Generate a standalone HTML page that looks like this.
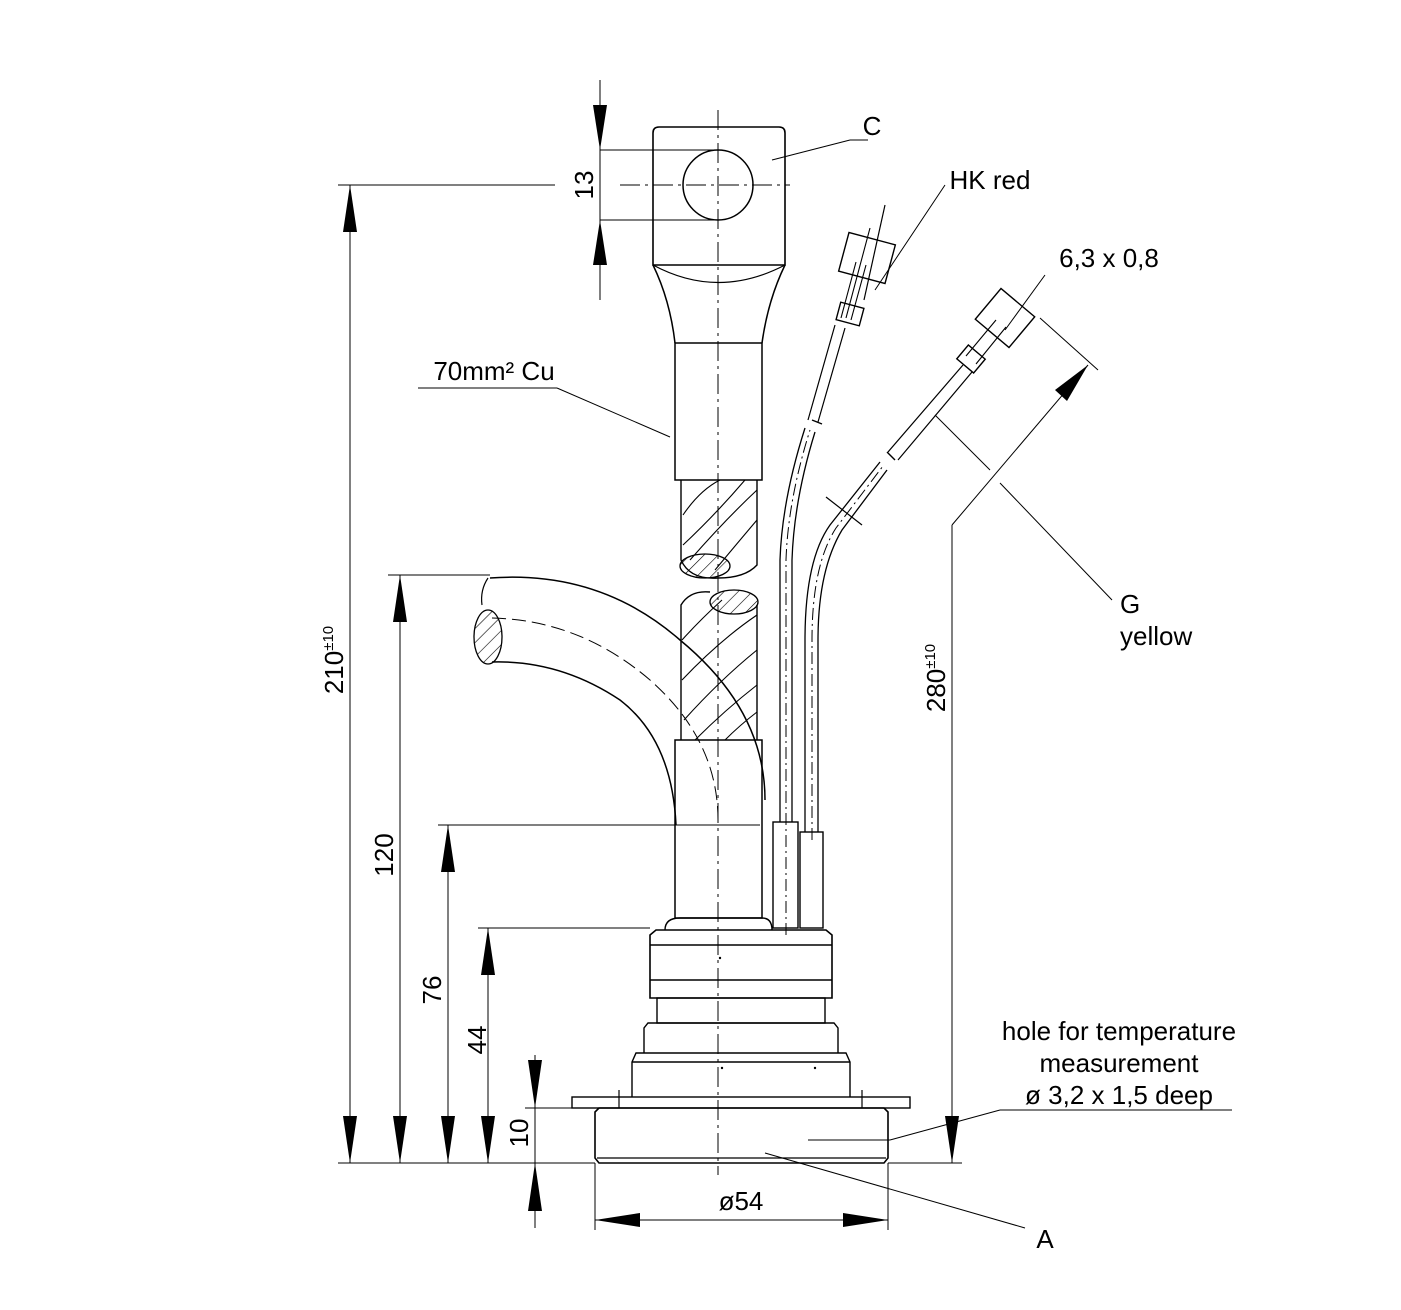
<!DOCTYPE html>
<html><head><meta charset="utf-8"><style>
html,body{margin:0;padding:0;background:#fff}
svg{display:block}
text{font-family:"Liberation Sans",sans-serif;font-size:26px;fill:#000}
</style></head><body>
<svg width="1401" height="1310" viewBox="0 0 1401 1310" xmlns="http://www.w3.org/2000/svg">
<defs>
<pattern id="h" width="10" height="10" patternUnits="userSpaceOnUse" patternTransform="rotate(45)">
<line x1="0" y1="0" x2="0" y2="10" stroke="#000" stroke-width="1.2"/></pattern>
</defs>
<g fill="none" stroke="#000" stroke-width="1.2">
<line x1="718" y1="110" x2="718" y2="1175" stroke-dasharray="20,5,3,5" stroke-width="1"/>
<path d="M653,265 V133 Q653,127 659,127 H779 Q785,127 785,133 V265 Z" stroke-width="1.6"/>
<circle cx="718" cy="185" r="35" stroke-width="1.5"/>
<line x1="620" y1="185" x2="790" y2="185" stroke-dasharray="20,5,3,5" stroke-width="1"/>
<path d="M653,265 Q718,300 785,265"/>
<path d="M653,265 Q670,300 675,343 M785,265 Q768,300 762,343" stroke-width="1.5"/>
<rect x="675" y="343" width="87" height="137" stroke-width="1.5"/>
<path d="M681,480 V560 Q690,580 718,578 Q745,578 757,565 V480" stroke-width="1.4"/>
<path d="M683,515 Q700,490 720,480 M683,545 Q715,515 745,480 M690,560 Q725,520 757,490 M715,570 Q740,540 757,520" stroke-width="1.1"/>
<ellipse cx="705" cy="566" rx="25" ry="12" fill="url(#h)" stroke-width="1.3"/>
<ellipse cx="734" cy="602" rx="24" ry="12" fill="url(#h)" stroke-width="1.3"/>
<path d="M681,740 V605 Q690,590 710,592 M757,740 V605" stroke-width="1.4"/>
<path d="M682,640 Q700,620 722,600 M682,680 Q720,640 757,615 M684,720 Q720,680 757,650 M695,740 Q725,710 757,685 M725,740 Q740,725 757,712" stroke-width="1.1"/>
<path d="M490,578 Q600,570 680,640 Q765,710 765,800" stroke-width="1.5"/>
<path d="M492,662 Q560,660 620,700 Q672,740 676,825" stroke-width="1.5"/>
<path d="M492,618 Q580,620 650,680 Q718,740 718,820" stroke-dasharray="14,6" stroke-width="1"/>
<ellipse cx="488" cy="637" rx="14" ry="27" fill="url(#h)" stroke-width="1.3"/>
<path d="M488,578 Q480,590 482,605" />
<rect x="675" y="740" width="87" height="178" stroke-width="1.5"/>
<path d="M665,930 Q665,918 680,918 H762 Q772,918 772,930" stroke-width="1.4"/>
<path d="M650,998 V935 L656,930 H826 L832,935 V998 Z" stroke-width="1.6"/>
<line x1="650" y1="945" x2="832" y2="945" stroke-width="1.4"/>
<line x1="650" y1="980" x2="832" y2="980" stroke-width="1.4"/>
<rect x="657" y="998" width="168" height="25" stroke-width="1.4"/>
<path d="M644,1053 V1028 L648,1023 H834 L838,1028 V1053" stroke-width="1.4"/>
<path d="M632,1097 V1062 L636,1053 H846 L850,1062 V1097" stroke-width="1.4"/>
<line x1="632" y1="1062" x2="850" y2="1062" stroke-width="1.4"/>
<rect x="572" y="1097" width="338" height="11" stroke-width="1.4"/>
<path d="M595,1112 L599,1108 H884 L888,1112 V1158 L884,1163 H599 L595,1158 Z" stroke-width="1.6"/>
<line x1="597" y1="1158" x2="886" y2="1158" stroke-width="1.2"/>
<line x1="619" y1="1090" x2="619" y2="1108"/><line x1="862" y1="1090" x2="862" y2="1108"/>
<rect x="773" y="822" width="25" height="106" stroke-width="1.4"/>
<rect x="800" y="832" width="23" height="96" stroke-width="1.4"/>
<path d="M780,822 V560 Q782,500 805,428 M792,822 V560 Q794,500 815,432" stroke-width="1.3"/>
<path d="M786,935 V560 Q788,500 810,430" stroke-dasharray="12,4,2,4" stroke-width="1"/>
<path d="M808,420 L835,325 M818,422 L845,328" stroke-width="1.2"/>
<path d="M841,318 L856,262 M851,320 L866,265 M846,318 L870,228" stroke-width="1.1"/>
<line x1="812" y1="420" x2="822" y2="424" stroke-width="1.4"/>
<rect x="838" y="305" width="24" height="18" transform="rotate(15 850 314)" stroke-width="1.4"/>
<rect x="843" y="238" width="48" height="40" transform="rotate(15 867 258)" stroke-width="1.4"/>
<line x1="864" y1="300" x2="885" y2="205"/>
<path d="M805,832 V640 Q805,560 830,525 L880,462 M818,832 V640 Q818,570 842,530 L887,470" stroke-width="1.3"/>
<path d="M812,840 V640 Q812,565 836,528 L883,466" stroke-dasharray="12,4,2,4" stroke-width="1"/>
<line x1="826" y1="497" x2="862" y2="525"/>
<path d="M888,452 L963,365 M898,460 L972,372" stroke-width="1.2"/>
<path d="M966,356 L996,320 M976,364 L1006,327" stroke-width="1.1"/>
<line x1="887" y1="452" x2="895" y2="460" stroke-width="1.4"/>
<rect x="960" y="350" width="22" height="18" transform="rotate(40 971 359)" stroke-width="1.4"/>
<rect x="983" y="298" width="44" height="40" transform="rotate(40 1005 318)" stroke-width="1.4"/>
<g stroke-width="1">
<line x1="600" y1="80" x2="600" y2="300"/>
<line x1="600" y1="150" x2="718" y2="150"/>
<line x1="600" y1="220" x2="718" y2="220"/>
<line x1="338" y1="185" x2="555" y2="185"/>
<line x1="350" y1="185" x2="350" y2="1163"/>
<line x1="388" y1="575" x2="490" y2="575"/>
<line x1="400" y1="575" x2="400" y2="1163"/>
<line x1="438" y1="825" x2="760" y2="825"/>
<line x1="448" y1="825" x2="448" y2="1163"/>
<line x1="478" y1="928" x2="650" y2="928"/>
<line x1="488" y1="928" x2="488" y2="1163"/>
<line x1="525" y1="1108" x2="572" y2="1108"/>
<line x1="535" y1="1055" x2="535" y2="1228"/>
<line x1="338" y1="1163" x2="595" y2="1163"/>
<line x1="888" y1="1163" x2="962" y2="1163"/>
<line x1="595" y1="1163" x2="595" y2="1230"/>
<line x1="888" y1="1163" x2="888" y2="1230"/>
<line x1="595" y1="1220" x2="888" y2="1220"/>
<line x1="952" y1="525" x2="952" y2="1163"/>
<line x1="952" y1="525" x2="1088" y2="365"/>
<line x1="1040" y1="318" x2="1098" y2="370"/>
<line x1="935" y1="415" x2="990" y2="470"/>
<line x1="1000" y1="483" x2="1112" y2="600"/>
<line x1="772" y1="160" x2="850" y2="140"/><line x1="850" y1="140" x2="868" y2="140"/>
<line x1="875" y1="290" x2="945" y2="185"/>
<line x1="1005" y1="330" x2="1045" y2="275"/>
<line x1="418" y1="388" x2="557" y2="388"/><line x1="557" y1="388" x2="670" y2="437"/>
<line x1="1000" y1="1110" x2="1232" y2="1110"/><line x1="1000" y1="1110" x2="890" y2="1140"/><line x1="890" y1="1140" x2="808" y2="1140"/>
<line x1="765" y1="1153" x2="1025" y2="1228"/>
</g>
</g>
<g fill="#000">
<polygon points="600,150 593,105 607,105"/>
<polygon points="600,220 593,265 607,265"/>
<polygon points="350,185 343,232 357,232"/>
<polygon points="350,1163 343,1116 357,1116"/>
<polygon points="400,575 393,622 407,622"/>
<polygon points="400,1163 393,1116 407,1116"/>
<polygon points="448,825 441,872 455,872"/>
<polygon points="448,1163 441,1116 455,1116"/>
<polygon points="488,928 481,975 495,975"/>
<polygon points="488,1163 481,1116 495,1116"/>
<polygon points="535,1108 528,1060 542,1060"/>
<polygon points="535,1163 528,1211 542,1211"/>
<polygon points="595,1220 640,1213 640,1227"/>
<polygon points="888,1220 843,1213 843,1227"/>
<polygon points="952,1163 945,1116 959,1116"/>
<polygon points="1088,365 1055,390 1067,401"/>
<circle cx="720" cy="958" r="1.2"/><circle cx="722" cy="1068" r="1.2"/><circle cx="815" cy="1068" r="1.2"/>
</g>
<text x="872" y="135" text-anchor="middle">C</text>
<text x="990" y="189" text-anchor="middle">HK red</text>
<text x="1109" y="267" text-anchor="middle">6,3 x 0,8</text>
<text x="494" y="380" text-anchor="middle">70mm² Cu</text>
<text x="1120" y="613">G</text>
<text x="1120" y="645">yellow</text>
<text x="1119" y="1040" text-anchor="middle">hole for temperature</text>
<text x="1119" y="1072" text-anchor="middle">measurement</text>
<text x="1119" y="1104" text-anchor="middle">ø 3,2 x 1,5 deep</text>
<text x="741" y="1210" text-anchor="middle">ø54</text>
<text x="1045" y="1248" text-anchor="middle">A</text>
<text transform="translate(593,185) rotate(-90)" text-anchor="middle">13</text>
<text transform="translate(343,660) rotate(-90)" text-anchor="middle">210<tspan font-size="15" dy="-10">±10</tspan></text>
<text transform="translate(393,855) rotate(-90)" text-anchor="middle">120</text>
<text transform="translate(441,990) rotate(-90)" text-anchor="middle">76</text>
<text transform="translate(486,1040) rotate(-90)" text-anchor="middle">44</text>
<text transform="translate(528,1133) rotate(-90)" text-anchor="middle">10</text>
<text transform="translate(945,678) rotate(-90)" text-anchor="middle">280<tspan font-size="15" dy="-10">±10</tspan></text>
</svg>
</body></html>
